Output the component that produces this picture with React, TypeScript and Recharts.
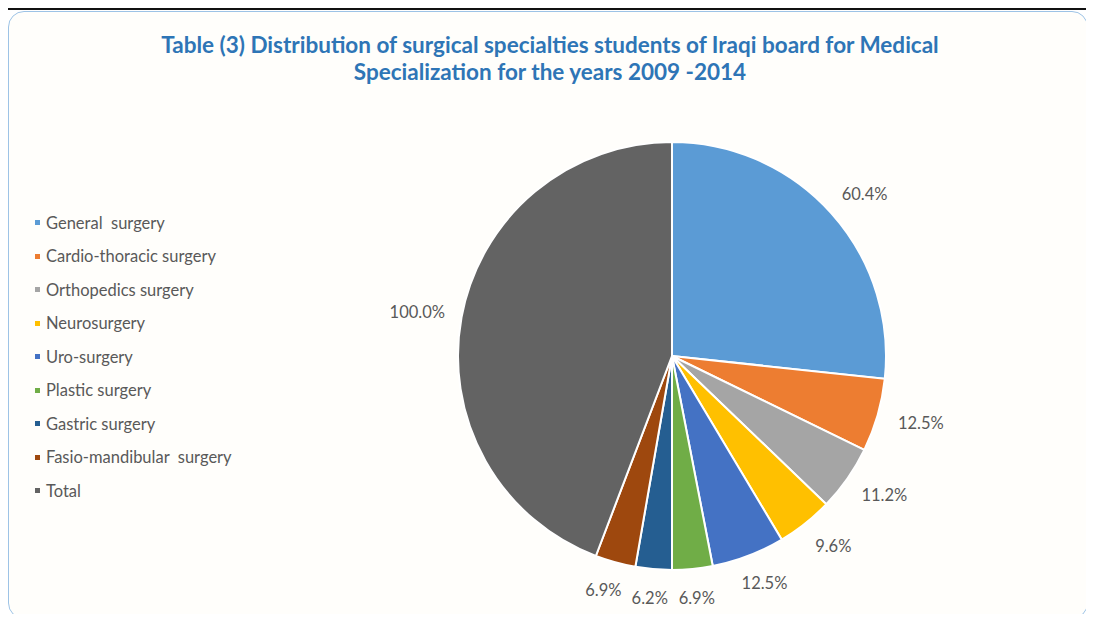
import React from 'react';
import { Cell, Pie, PieChart } from 'recharts';

const categories = [
  'General  surgery',
  'Cardio-thoracic surgery',
  'Orthopedics surgery',
  'Neurosurgery',
  'Uro-surgery',
  'Plastic surgery',
  'Gastric surgery',
  'Fasio-mandibular  surgery',
  'Total',
];
const values = [60.4, 12.5, 11.2, 9.6, 12.5, 6.9, 6.2, 6.9, 100.0];
const colors = ['#5B9BD5', '#ED7D31', '#A5A5A5', '#FFC000', '#4472C4', '#70AD47', '#255E91', '#9E480E', '#636363'];

const titleLines = [
  'Table (3) Distribution of surgical specialties students of Iraqi board for Medical',
  'Specialization for the years 2009 -2014',
];

const data = categories.map((name, i) => ({ name, value: values[i] }));
const RAD = Math.PI / 180;
const FONT = 'Lato, "Open Sans", sans-serif';

// label box sits a fixed gap outside the pie, pushed out by half its own size
function renderLabel(p: any) {
  const dx = Math.cos(-p.midAngle * RAD);
  const dy = Math.sin(-p.midAngle * RAD);
  const gap = p.outerRadius + 20;
  const x = p.cx + dx * (gap + 25);
  const y = p.cy + dy * (gap + 9);
  return (
    <text x={x} y={y} fill="#595959" fontSize={16.5} fontFamily={FONT} textAnchor="middle" dominantBaseline="central">
      {p.value.toFixed(1)}%
    </text>
  );
}

function LegendBox() {
  return (
    <div style={{ position: 'absolute', left: 35, top: 206, fontFamily: FONT, fontSize: 16.5, color: '#595959' }}>
      {data.map((d, i) => (
        <div key={d.name} style={{ display: 'flex', alignItems: 'center', height: 33.5, whiteSpace: 'pre' }}>
          <span style={{ width: 5, height: 5, background: colors[i], marginRight: 6, display: 'inline-block' }} />
          {d.name}
        </div>
      ))}
    </div>
  );
}

export default function App() {
  return (
    <div style={{ position: 'relative', width: 1094, height: 622, margin: -8, background: '#fff', overflow: 'hidden' }}>
      <div style={{ position: 'absolute', left: 4, top: 8, width: 1100, height: 630, borderLeft: '2px solid #111', borderTop: '2px solid #111' }} />
      <div style={{ position: 'absolute', left: 8, top: 11, width: 1078, height: 606, border: '1.5px solid #9DC3E6', borderRadius: 16, background: '#fffefb' }} />
      <div style={{ position: 'absolute', left: 0, top: 31, width: 1100, textAlign: 'center', fontFamily: FONT, fontWeight: 700, fontSize: 22.5, lineHeight: '27px', color: '#2E75B6' }}>
        {titleLines.map(t => <div key={t}>{t}</div>)}
      </div>
      <LegendBox />
      <div style={{ position: 'absolute', left: 0, top: 0 }}>
        <PieChart width={1094} height={622} margin={{ top: 0, right: 0, bottom: 0, left: 0 }}>
          <Pie
            data={data}
            dataKey="value"
            nameKey="name"
            cx={672}
            cy={356}
            outerRadius={214}
            startAngle={90}
            endAngle={-270}
            stroke="#fff"
            strokeWidth={2}
            label={renderLabel}
            labelLine={false}
            isAnimationActive={false}
          >
            {data.map((d, i) => <Cell key={d.name} fill={colors[i]} />)}
          </Pie>
        </PieChart>
      </div>
    </div>
  );
}
